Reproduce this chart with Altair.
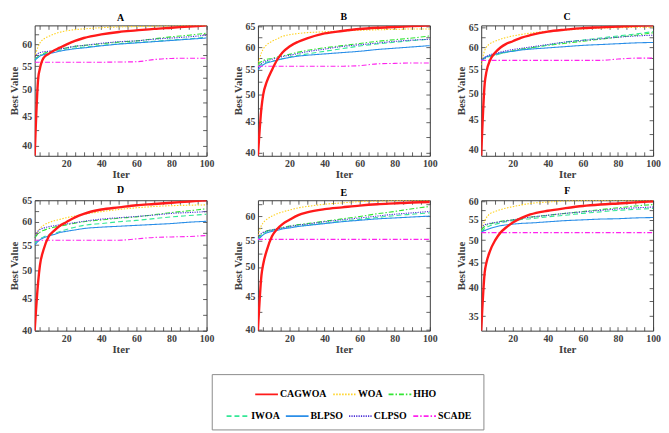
import altair as alt
import pandas as pd
import numpy as np

ITERS = [2, 4, 5, 7, 10, 13, 16, 20, 25, 30, 40, 50, 60, 70, 80, 90, 100]
SERIES = ["CAGWOA", "WOA", "HHO", "IWOA", "BLPSO", "CLPSO", "SCADE"]
COLORS = ["#ff1a1a", "#ffd21f", "#33e633", "#33e896", "#2a8ee8", "#4a2fd6", "#ff22ee"]
DASHES = [[1, 0], [1.5, 1.5], [5, 2, 1.5, 2], [5, 3], [1, 0], [1.2, 1.2], [5, 2, 1.5, 2]]
PANELS = ["A", "B", "C", "D", "E", "F"]

A = {
    "CAGWOA": [38.4, 52.4, 54.5, 56.8, 57.8, 58.6, 59.2, 60.0, 60.9, 61.6, 62.5, 63.1, 63.5, 63.9, 64.2, 64.5, 64.8],
    "WOA": [57.0, 59.5, 60.4, 61.3, 62.0, 62.6, 63.0, 63.4, 63.7, 63.9, 64.2, 64.4, 64.5, 64.6, 64.7, 64.75, 64.8],
    "HHO": [56.5, 57.2, 57.5, 57.9, 58.3, 58.6, 58.9, 59.2, 59.6, 59.8, 60.2, 60.6, 60.9, 61.4, 61.9, 62.3, 62.8],
    "IWOA": [56.5, 57.0, 57.3, 57.7, 58.0, 58.3, 58.6, 58.9, 59.2, 59.4, 59.8, 60.2, 60.5, 60.8, 61.1, 61.4, 61.8],
    "BLPSO": [56.3, 57.0, 57.3, 57.6, 57.9, 58.1, 58.4, 58.7, 59.0, 59.2, 59.7, 60.1, 60.4, 60.7, 61.0, 61.3, 61.6],
    "CLPSO": [57.0, 57.9, 58.1, 58.3, 58.4, 58.6, 58.9, 59.2, 59.6, 59.8, 60.3, 60.7, 60.9, 61.3, 61.6, 61.9, 62.3],
    "SCADE": [55.9, 55.9, 55.9, 55.9, 55.9, 55.9, 55.9, 55.9, 55.9, 55.9, 55.9, 55.95, 56.0, 56.5, 56.75, 56.8, 56.8],
}
B = {
    "CAGWOA": [39.5, 47.5, 50.0, 52.5, 55.0, 57.2, 58.8, 60.2, 61.3, 62.1, 63.3, 63.9, 64.4, 64.7, 64.9, 65.1, 65.3],
    "WOA": [56.0, 58.8, 59.6, 60.6, 61.4, 62.0, 62.6, 63.0, 63.3, 63.5, 63.7, 63.9, 64.1, 64.2, 64.3, 64.4, 64.4],
    "HHO": [56.2, 56.8, 57.0, 57.3, 57.5, 57.8, 58.1, 58.4, 58.9, 59.3, 59.9, 60.4, 60.9, 61.4, 61.8, 62.2, 62.7],
    "IWOA": [55.8, 56.2, 56.4, 56.7, 56.9, 57.1, 57.4, 57.8, 58.2, 58.5, 59.1, 59.7, 60.3, 60.8, 61.2, 61.6, 61.9],
    "BLPSO": [55.0, 55.8, 56.1, 56.5, 56.8, 57.1, 57.4, 57.7, 58.0, 58.2, 58.5, 58.8, 59.1, 59.5, 59.8, 60.1, 60.4],
    "CLPSO": [55.5, 56.4, 56.7, 57.0, 57.3, 57.6, 57.9, 58.2, 58.6, 59.0, 59.6, 60.2, 60.6, 61.0, 61.4, 61.7, 61.9],
    "SCADE": [55.8, 55.8, 55.8, 55.8, 55.8, 55.8, 55.8, 55.8, 55.8, 55.8, 55.8, 55.8, 55.9, 56.3, 56.4, 56.5, 56.5],
}
C = {
    "CAGWOA": [39.0, 52.0, 54.5, 57.0, 58.8, 60.0, 60.8, 61.5, 62.4, 63.0, 63.9, 64.4, 64.8, 65.0, 65.2, 65.4, 65.5],
    "WOA": [56.0, 59.3, 60.1, 60.9, 61.5, 62.0, 62.4, 62.8, 63.2, 63.5, 64.0, 64.3, 64.6, 64.8, 64.9, 65.0, 65.0],
    "HHO": [57.0, 57.5, 57.7, 58.0, 58.3, 58.6, 58.9, 59.2, 59.6, 59.9, 60.5, 61.0, 61.5, 62.0, 62.5, 63.0, 63.6],
    "IWOA": [57.0, 57.4, 57.6, 57.9, 58.2, 58.5, 58.8, 59.1, 59.5, 59.8, 60.6, 61.3, 61.8, 62.3, 62.8, 63.3, 63.9],
    "BLPSO": [57.0, 57.6, 57.8, 58.1, 58.4, 58.7, 58.9, 59.1, 59.4, 59.6, 59.9, 60.2, 60.5, 60.7, 60.9, 61.1, 61.2],
    "CLPSO": [57.0, 57.7, 57.9, 58.3, 58.6, 58.9, 59.2, 59.5, 59.8, 60.1, 60.7, 61.3, 61.7, 62.1, 62.5, 62.8, 63.0],
    "SCADE": [57.0, 57.0, 57.0, 57.0, 57.0, 57.0, 57.0, 57.0, 57.0, 57.0, 57.0, 57.0, 57.0, 57.0, 57.3, 57.5, 57.5],
}
D = {
    "CAGWOA": [40.0, 48.0, 51.0, 54.0, 56.8, 58.0, 59.0, 59.9, 61.0, 61.8, 62.8, 63.3, 63.8, 64.1, 64.4, 64.7, 65.0],
    "WOA": [56.5, 58.0, 58.5, 59.2, 59.8, 60.2, 60.5, 60.9, 61.3, 61.7, 62.3, 62.8, 63.2, 63.5, 63.7, 63.8, 63.9],
    "HHO": [56.5, 57.4, 57.7, 58.1, 58.5, 58.8, 59.0, 59.3, 59.7, 60.0, 60.4, 60.8, 61.1, 61.6, 62.1, 62.5, 63.0],
    "IWOA": [55.5, 56.0, 56.3, 56.7, 57.1, 57.4, 57.8, 58.3, 58.8, 59.2, 59.6, 60.0, 60.3, 60.7, 61.1, 61.4, 61.7],
    "BLPSO": [55.0, 55.8, 56.1, 56.5, 56.9, 57.2, 57.6, 57.9, 58.2, 58.5, 58.8, 59.0, 59.2, 59.4, 59.6, 59.9, 60.1],
    "CLPSO": [56.5, 58.0, 58.3, 58.6, 58.9, 59.1, 59.3, 59.5, 59.8, 60.1, 60.6, 60.9, 61.2, 61.5, 61.9, 62.1, 62.3],
    "SCADE": [56.0, 56.0, 56.0, 56.0, 56.0, 56.0, 56.0, 56.0, 56.0, 56.0, 56.0, 56.0, 56.3, 56.6, 56.7, 56.8, 57.0],
}
E = {
    "CAGWOA": [39.8, 48.5, 50.5, 53.0, 55.8, 57.3, 58.3, 59.2, 60.2, 60.8, 61.5, 61.9, 62.3, 62.6, 62.8, 63.0, 63.1],
    "WOA": [56.0, 58.0, 58.6, 59.3, 60.0, 60.5, 60.9, 61.3, 61.8, 62.1, 62.6, 62.9, 63.2, 63.3, 63.4, 63.5, 63.5],
    "HHO": [55.5, 56.2, 56.5, 56.9, 57.1, 57.4, 57.6, 57.9, 58.2, 58.4, 58.9, 59.4, 59.9, 60.5, 61.0, 61.6, 62.1],
    "IWOA": [55.3, 56.0, 56.3, 56.7, 57.0, 57.3, 57.5, 57.7, 57.9, 58.1, 58.5, 58.9, 59.3, 59.7, 60.1, 60.4, 60.7],
    "BLPSO": [55.0, 55.8, 56.1, 56.5, 56.8, 57.0, 57.3, 57.5, 57.8, 58.0, 58.4, 58.8, 59.1, 59.4, 59.6, 59.8, 60.0],
    "CLPSO": [55.5, 56.4, 56.6, 56.9, 57.1, 57.3, 57.5, 57.8, 58.1, 58.3, 58.8, 59.2, 59.6, 60.0, 60.4, 60.7, 61.0],
    "SCADE": [55.2, 55.2, 55.2, 55.2, 55.2, 55.2, 55.2, 55.2, 55.2, 55.2, 55.2, 55.2, 55.2, 55.2, 55.2, 55.2, 55.2],
}
F = {
    "CAGWOA": [32.7, 43.0, 45.0, 47.5, 50.0, 51.8, 53.0, 54.3, 55.5, 56.4, 57.4, 58.1, 58.7, 59.1, 59.4, 59.7, 60.0],
    "WOA": [52.0, 54.8, 55.6, 56.6, 57.2, 57.7, 58.1, 58.5, 59.0, 59.4, 59.8, 60.1, 60.2, 60.25, 60.3, 60.3, 60.3],
    "HHO": [52.5, 53.3, 53.6, 54.0, 54.3, 54.6, 54.8, 55.0, 55.4, 55.7, 56.2, 56.7, 57.2, 57.7, 58.2, 58.7, 59.1],
    "IWOA": [52.0, 52.8, 53.1, 53.5, 53.9, 54.2, 54.5, 54.8, 55.1, 55.3, 55.8, 56.2, 56.7, 57.1, 57.5, 57.8, 58.0],
    "BLPSO": [52.0, 52.3, 52.5, 52.8, 53.2, 53.5, 53.7, 53.9, 54.1, 54.2, 54.5, 54.8, 55.0, 55.2, 55.3, 55.5, 55.6],
    "CLPSO": [53.0, 53.7, 53.9, 54.1, 54.3, 54.5, 54.7, 55.0, 55.4, 55.7, 56.2, 56.7, 57.1, 57.5, 57.9, 58.2, 58.4],
    "SCADE": [51.8, 51.8, 51.8, 51.8, 51.8, 51.8, 51.8, 51.8, 51.8, 51.8, 51.8, 51.8, 51.8, 51.8, 51.8, 51.8, 51.8],
}
PANEL_DATA = {"A": A, "B": B, "C": C, "D": D, "E": E, "F": F}
Y_DOMAIN = {"A": [38.4, 64.8], "B": [39.5, 65.3], "C": [39.0, 65.5],
            "D": [40.0, 65.0], "E": [39.8, 63.5], "F": [32.7, 60.3]}
X_DOMAIN = [2, 100]
X_TICKS = list(range(5, 101, 5))
Y_TICK_CANDIDATES = [30, 32.5, 35, 37.5, 40, 42.5, 45, 47.5, 50, 52.5, 55, 57.5, 60, 62.5, 65]
LEGEND_ROW1 = ["CAGWOA", "WOA", "HHO"]
LEGEND_ROW2 = ["IWOA", "BLPSO", "CLPSO", "SCADE"]

rows = []
for p in PANELS:
    for s in SERIES:
        for it, v in zip(ITERS, PANEL_DATA[p][s]):
            rows.append({"panel": p, "series": s, "iter": it, "value": v})
df = pd.DataFrame(rows)

W, H = 174, 132
FONT = "Liberation Serif"
TICK = 4


def panel(p):
    d = df[df.panel == p]
    lo, hi = Y_DOMAIN[p]
    yt = [t for t in Y_TICK_CANDIDATES if lo <= t <= hi]
    xs = alt.Scale(domain=X_DOMAIN, nice=False, zero=False)
    ys = alt.Scale(type="log", domain=[lo, hi], nice=False, zero=False)
    xlab = "datum.value % 20 === 0 ? datum.label : ''"
    ylab = "datum.value % 5 === 0 ? format(datum.value, 'd') : ''"
    x_bottom = alt.Axis(orient="bottom", values=X_TICKS, labelExpr=xlab, tickSize=TICK,
                        offset=-TICK, title="Iter", labelPadding=3, titlePadding=0)
    y_left = alt.Axis(orient="left", values=yt, labelExpr=ylab, tickSize=TICK,
                      offset=-TICK, title="Best Value", labelPadding=3, titlePadding=2)
    x_top = alt.Axis(orient="top", values=X_TICKS, labels=False, tickSize=TICK,
                     offset=-TICK, title=None, minExtent=0, maxExtent=0)
    y_right = alt.Axis(orient="right", values=yt, labels=False, tickSize=TICK,
                       offset=-TICK, title=None, minExtent=0, maxExtent=0)
    others = alt.Chart(d[d.series != "CAGWOA"]).mark_line(
        strokeWidth=1.1, interpolate="monotone", clip=True).encode(
        x=alt.X("iter:Q", scale=xs, axis=x_bottom),
        y=alt.Y("value:Q", scale=ys, axis=y_left),
        color=alt.Color("series:N", scale=alt.Scale(domain=SERIES, range=COLORS), legend=None),
        strokeDash=alt.StrokeDash("series:N", scale=alt.Scale(domain=SERIES, range=DASHES), legend=None),
    )
    red = alt.Chart(d[d.series == "CAGWOA"]).mark_line(
        strokeWidth=2.4, interpolate="monotone", clip=True, color=COLORS[0]).encode(
        x=alt.X("iter:Q", scale=xs, axis=None),
        y=alt.Y("value:Q", scale=ys, axis=None),
    )
    frame = alt.Chart(d).mark_point(opacity=0).encode(
        x=alt.X("iter:Q", scale=xs, axis=x_top),
        y=alt.Y("value:Q", scale=ys, axis=y_right),
    )
    return alt.layer(others, red, frame).properties(
        width=W, height=H,
        title=alt.Title(p, anchor="middle", fontSize=10, font=FONT, fontWeight="bold",
                        color="black", offset=0, frame="group"))


def legend_unit(names, lx, ly):
    cols = [COLORS[SERIES.index(n)] for n in names]
    dashes = [DASHES[SERIES.index(n)] for n in names]
    leg = alt.Legend(orient="none", legendX=lx, legendY=ly, direction="horizontal",
                     columns=len(names), title=None, symbolType="stroke", symbolSize=529,
                     symbolStrokeWidth=1.6, labelFont=FONT, labelFontSize=10,
                     labelFontWeight="bold", labelColor="black", columnPadding=2,
                     labelOffset=1, padding=0, gridAlign="none")
    return alt.Chart(df).transform_filter("false").mark_line().encode(
        x=alt.X("iter:Q", axis=None, scale=alt.Scale(domain=[0, 1])),
        y=alt.Y("value:Q", axis=None, scale=alt.Scale(domain=[0, 1])),
        color=alt.Color("series:N", scale=alt.Scale(domain=names, range=cols), legend=leg),
        strokeDash=alt.StrokeDash("series:N", scale=alt.Scale(domain=names, range=dashes), legend=leg),
    )


legend_cell = alt.layer(
    legend_unit(LEGEND_ROW1, 43, 8),
    legend_unit(LEGEND_ROW2, 14, 30),
).resolve_scale(color="independent", strokeDash="independent").properties(
    width=275, height=56, view=alt.ViewBackground(stroke="#8a8a8a", strokeWidth=1))

row1 = alt.hconcat(panel("A"), panel("B"), panel("C"), spacing=17)
row2 = alt.hconcat(panel("D"), panel("E"), panel("F"), spacing=17)
grid = alt.vconcat(row1, row2, spacing=4)

chart = alt.vconcat(grid, legend_cell, spacing=18, center=True).properties(
    padding={"left": 0, "top": 0, "right": 0, "bottom": 0}
).configure_view(stroke="#3a3a3a", strokeWidth=1).configure_axis(
    labelFont=FONT, labelFontWeight="bold", labelFontSize=10, labelColor="#404040",
    titleFont=FONT, titleFontWeight="bold", titleFontSize=11, titleColor="#404040",
    tickColor="#3a3a3a", tickWidth=0.8, grid=False, domain=False,
    labelFlush=False, labelOverlap=False, minExtent=0,
)

chart.save("out.html", embed_options={"renderer": "svg", "actions": False})
